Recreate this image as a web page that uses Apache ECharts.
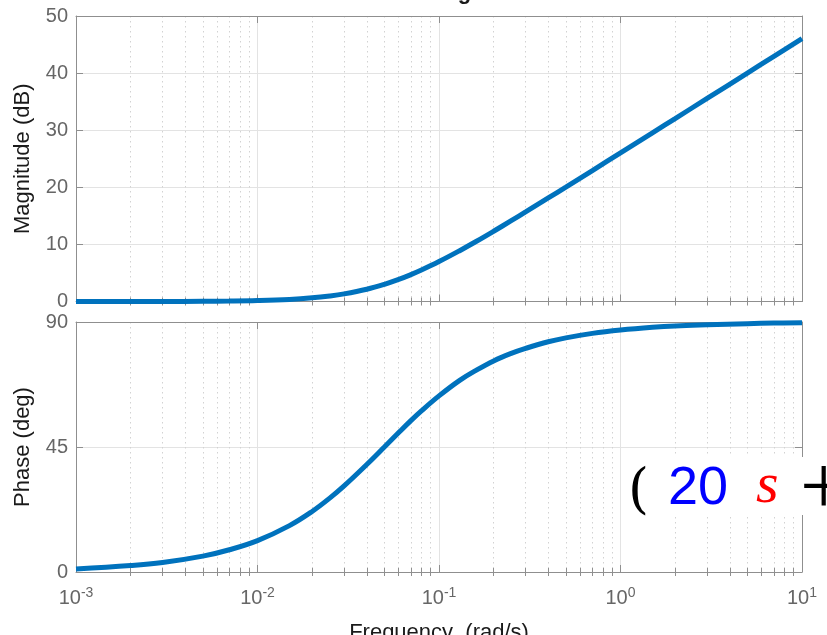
<!DOCTYPE html>
<html>
<head>
<meta charset="utf-8">
<script src="https://cdn.jsdelivr.net/npm/echarts@6/dist/echarts.min.js"></script>
<style>
html,body{margin:0;padding:0;background:#fff;}
#chart{width:827px;height:635px;}
</style>
</head>
<body>
<div id="chart"></div>
<script>
// Frequency samples (rad/s)
const freq = [0.001, 0.002, 0.003, 0.005, 0.007, 0.01, 0.015, 0.02, 0.025, 0.03, 0.04, 0.05, 0.06, 0.07, 0.08, 0.1, 0.13, 0.16, 0.2, 0.25, 0.3, 0.4, 0.5, 0.7, 1, 1.5, 2, 3, 5, 7, 10];
// Magnitude (dB)
const magnitude = [0.0, 0.0, 0.0, 0.04, 0.08, 0.17, 0.37, 0.64, 0.97, 1.34, 2.15, 3.01, 3.87, 4.71, 5.51, 6.99, 8.9, 10.5, 12.3, 14.15, 15.68, 18.13, 20.04, 22.94, 26.03, 29.55, 32.04, 35.56, 40.0, 42.93, 46.02];
// Phase (deg)
const phase = [1.1, 2.3, 3.4, 5.7, 8.0, 11.3, 16.7, 21.8, 26.6, 31.0, 38.7, 45.0, 50.2, 54.5, 58.0, 63.4, 69.0, 72.6, 76.0, 78.7, 80.5, 82.9, 84.3, 85.9, 87.1, 88.1, 88.6, 89.0, 89.4, 89.6, 89.7];
// Axis ticks
const xDecades = [0.001, 0.01, 0.1, 1, 10];
const magTicks = [0, 10, 20, 30, 40, 50];
const phaseTicks = [0, 45, 90];
const title = 'Bode Diagram';
const xName = 'Frequency  (rad/s)';
const magName = 'Magnitude (dB)';
const phaseName = 'Phase (deg)';

const minorVals = [];
for (let d = 0; d < xDecades.length - 1; d++) {
  for (let m = 2; m <= 9; m++) minorVals.push(+(xDecades[d] * m).toPrecision(3));
}

const AX = '#8f8f8f';
const GRID = '#e3e3e3';
const LBL = '#666666';
const FONT = '"Liberation Sans", Arial, Helvetica, sans-serif';

function xAxes(gi, showLabels) {
  const base = {type: 'log', logBase: 10, min: 0.001, max: 10, gridIndex: gi};
  return [
    Object.assign({}, base, {
      position: 'bottom',
      axisLine: {show: true, onZero: false, lineStyle: {color: AX, width: 1}},
      axisTick: {show: true, inside: true, length: 7, lineStyle: {color: AX}, customValues: xDecades},
      axisLabel: {show: showLabels, margin: 14, customValues: xDecades, color: LBL, fontFamily: FONT,
        formatter: v => '{b|10}{s|' + Math.round(Math.log10(v)) + '}',
        rich: {b: {fontSize: 20, color: LBL, fontFamily: FONT, verticalAlign: 'bottom', lineHeight: 22},
               s: {fontSize: 14, color: LBL, fontFamily: FONT, verticalAlign: 'top', lineHeight: 22}}},
      splitLine: {show: true, lineStyle: {color: GRID, width: 1, type: 'solid'}},
      name: showLabels ? xName : '',
      nameLocation: 'middle', nameGap: 50,
      nameTextStyle: {fontSize: 22, color: '#1a1a1a', fontFamily: FONT}
    }),
    Object.assign({}, base, {
      position: 'bottom',
      axisLine: {show: false},
      axisTick: {show: true, inside: true, length: 4, lineStyle: {color: AX}, customValues: minorVals},
      axisLabel: {show: false},
      splitLine: {show: true, lineStyle: {color: '#d2d2d2', width: 1, type: [1.5, 3.5]}}
    }),
    Object.assign({}, base, {
      position: 'top',
      axisLine: {show: true, onZero: false, lineStyle: {color: AX, width: 1}},
      axisTick: {show: true, inside: true, length: 7, lineStyle: {color: AX}, customValues: xDecades},
      axisLabel: {show: false},
      splitLine: {show: false}
    }),
    Object.assign({}, base, {
      position: 'top',
      axisLine: {show: false},
      axisTick: {show: true, inside: true, length: 4, lineStyle: {color: AX}, customValues: minorVals},
      axisLabel: {show: false},
      splitLine: {show: false}
    })
  ];
}

function yAxes(gi, ticks, name) {
  const base = {type: 'value', gridIndex: gi, min: ticks[0], max: ticks[ticks.length - 1], interval: ticks[1] - ticks[0]};
  return [
    Object.assign({}, base, {
      position: 'left',
      axisLine: {show: true, onZero: false, lineStyle: {color: AX, width: 1}},
      axisTick: {show: true, inside: true, length: 7, lineStyle: {color: AX}},
      axisLabel: {show: true, margin: 8, color: LBL, fontSize: 20, fontFamily: FONT},
      splitLine: {show: true, lineStyle: {color: GRID, width: 1}},
      name: name, nameLocation: 'middle', nameGap: 42, nameRotate: 90,
      nameTextStyle: {fontSize: 22, color: '#1a1a1a', fontFamily: FONT}
    }),
    Object.assign({}, base, {
      position: 'right',
      axisLine: {show: true, onZero: false, lineStyle: {color: AX, width: 1}},
      axisTick: {show: true, inside: true, length: 7, lineStyle: {color: AX}},
      axisLabel: {show: false},
      splitLine: {show: false}
    })
  ];
}

const magData = freq.map((f, i) => [f, magnitude[i]]);
const phaseData = freq.map((f, i) => [f, phase[i]]);

const chart = echarts.init(document.getElementById('chart'), null, {renderer: 'canvas'});
chart.setOption({
  animation: false,
  backgroundColor: '#ffffff',
  grid: [
    {left: 76, right: 25, top: 16, height: 285.5, containLabel: false, outerBoundsMode: 'none'},
    {left: 76, right: 25, top: 322, height: 250, containLabel: false, outerBoundsMode: 'none'}
  ],
  xAxis: xAxes(0, false).concat(xAxes(1, true)),
  yAxis: yAxes(0, magTicks, magName).concat(yAxes(1, phaseTicks, phaseName)),
  series: [
    {type: 'line', xAxisIndex: 0, yAxisIndex: 0, data: magData, showSymbol: false, smooth: 0.4, clip: false,
     lineStyle: {color: '#0072BD', width: 5}},
    {type: 'line', xAxisIndex: 4, yAxisIndex: 2, data: phaseData, showSymbol: false, smooth: 0.4, clip: false,
     lineStyle: {color: '#0072BD', width: 5}}
  ],
  graphic: [
    {type: 'text', x: 437, y: 4, z: 100,
     style: {text: title, fontSize: 22, fontWeight: 'bold', fill: '#1a1a1a', fontFamily: FONT, align: 'center', verticalAlign: 'bottom'}},
    {type: 'rect', shape: {x: 624, y: 457, width: 210, height: 58}, style: {fill: '#ffffff'}, z: 50},
    {type: 'text', x: 628, y: 520, z: 60, style: {text: '(', fontSize: 54, fill: '#000', fontFamily: '"DejaVu Serif", "Liberation Serif", serif', verticalAlign: 'bottom'}},
    {type: 'text', x: 668, y: 516, z: 60, style: {text: '20', fontSize: 54, fill: '#0000ff', fontFamily: FONT, verticalAlign: 'bottom'}},
    {type: 'text', x: 756, y: 516, z: 60, style: {text: 's', fontSize: 58, fill: '#ff0000', fontStyle: 'italic', fontFamily: '"Liberation Serif", "DejaVu Serif", serif', verticalAlign: 'bottom'}},
    {type: 'text', x: 800, y: 534, z: 60, style: {text: '+', fontSize: 84, fill: '#000', fontFamily: '"Liberation Serif", "DejaVu Serif", serif', verticalAlign: 'bottom'}}
  ]
});
</script>
</body>
</html>
